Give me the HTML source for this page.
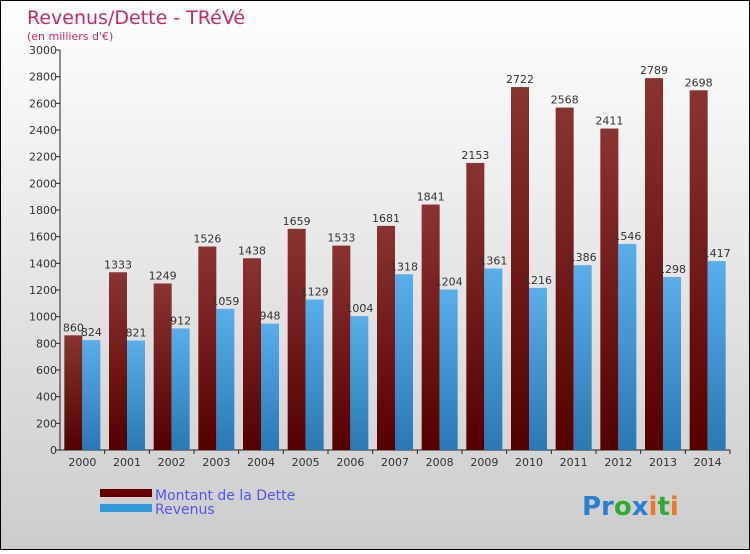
<!DOCTYPE html>
<html><head><meta charset="utf-8"><style>
body{margin:0;}
#c{width:750px;height:550px;position:relative;font-family:"DejaVu Sans","Liberation Sans",sans-serif;}
</style></head><body>
<div id="c">
<svg id="s" width="750" height="550" xmlns="http://www.w3.org/2000/svg">
<defs>
<linearGradient id="bg" x1="0" y1="0" x2="0" y2="1"><stop offset="0" stop-color="#ffffff"/><stop offset="1" stop-color="#cccccc"/></linearGradient>
<linearGradient id="gd" x1="0" y1="0" x2="0" y2="1"><stop offset="0" stop-color="#8a3333"/><stop offset="1" stop-color="#550000"/></linearGradient>
<linearGradient id="gr" x1="0" y1="0" x2="0" y2="1"><stop offset="0" stop-color="#5aaeea"/><stop offset="1" stop-color="#2a78b4"/></linearGradient>
</defs>
<rect x="0.5" y="0.5" width="749" height="549" fill="url(#bg)" stroke="#000"/>
<text x="27" y="24" font-size="19" fill="#c8285a">Revenus/Dette - TRéVé</text>
<text x="27" y="40" font-size="11" fill="#c8285a">(en milliers d'€)</text>
<g id="axes"></g>
<g id="bars"></g>
<g>
<rect x="100" y="489" width="52" height="8" fill="#660000"/>
<text x="155" y="500" font-size="14" fill="#5555ee">Montant de la Dette</text>
<rect x="100" y="504" width="52" height="8" fill="#3399dd"/>
<text x="155" y="514" font-size="14" fill="#5555ee">Revenus</text>
</g>
<text x="582" y="515" font-size="26" font-weight="bold"><tspan fill="#2a7fd0">Pr</tspan><tspan fill="#33aa33">o</tspan><tspan fill="#2a7fd0">x</tspan><tspan fill="#ee7722">i</tspan><tspan fill="#33aa33">t</tspan><tspan fill="#ee7722">i</tspan></text>
</svg></div>
<script>
const years=["2000","2001","2002","2003","2004","2005","2006","2007","2008","2009","2010","2011","2012","2013","2014"];
const dette=[860,1333,1249,1526,1438,1659,1533,1681,1841,2153,2722,2568,2411,2789,2698];
const revenus=[824,821,912,1059,948,1129,1004,1318,1204,1361,1216,1386,1546,1298,1417];
const yTicks=[0,200,400,600,800,1000,1200,1400,1600,1800,2000,2200,2400,2600,2800,3000];
const NS="http://www.w3.org/2000/svg";
const L=60,R=730,T=50,B=450,MAX=3000;
const y=v=>B-(v/MAX)*(B-T);
const gw=(R-L)/years.length;
const gx=i=>L+gw*i;
function mk(t,a,p){const e=document.createElementNS(NS,t);for(const k in a)e.setAttribute(k,a[k]);p.appendChild(e);return e;}
const ax=document.getElementById('axes'),bg=document.getElementById('bars');
let l=mk('line',{x1:L,y1:T,x2:L,y2:B,stroke:'#222'},ax);


l=mk('line',{x1:L,y1:B,x2:R,y2:B,stroke:'#222'},ax);


yTicks.forEach(v=>{
 const t=mk('line',{x1:L-4,y1:y(v),x2:L,y2:y(v),stroke:'#222'},ax);
 
 
 const tx=mk('text',{x:L-3,y:y(v)+4,'font-size':11,fill:'#333','text-anchor':'end'},ax);
 tx.textContent=v;
 
 
});
years.forEach((yr,i)=>{
 const x0=gx(i);
 const t=mk('line',{x1:x0+gw,y1:B,x2:x0+gw,y2:B+4,stroke:'#222'},ax);
 
 
 const tx=mk('text',{x:x0+gw/2,y:B+16,'font-size':11,fill:'#333','text-anchor':'middle'},ax);
 tx.textContent=yr;
 
 
 const cx=x0+gw/2;
 const b1=mk('rect',{x:cx-18,y:y(dette[i]),width:18,height:B-y(dette[i]),fill:'url(#gd)'},bg);
 
 
 const b2=mk('rect',{x:cx,y:y(revenus[i]),width:18,height:B-y(revenus[i]),fill:'url(#gr)'},bg);
 
 
 const v1=mk('text',{x:cx-9,y:y(dette[i])-4,'font-size':11,fill:'#333','text-anchor':'middle'},bg);
 v1.textContent=dette[i];
 
 
 const v2=mk('text',{x:cx+9,y:y(revenus[i])-4,'font-size':11,fill:'#333','text-anchor':'middle'},bg);
 v2.textContent=revenus[i];
 
 
});
</script>
</body></html>
